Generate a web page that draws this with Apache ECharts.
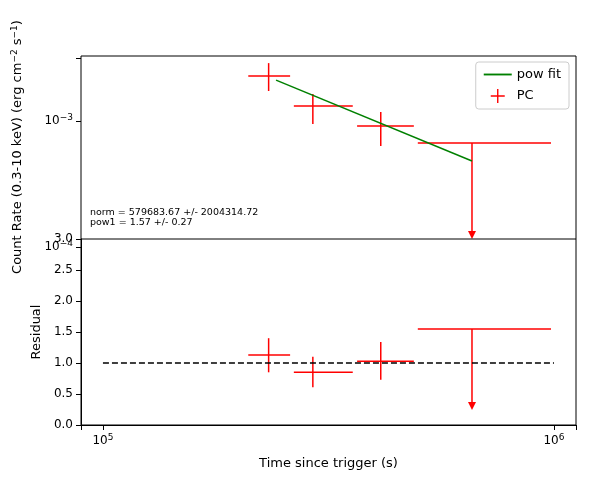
<!DOCTYPE html>
<html><head><meta charset="utf-8">
<script src="https://cdn.jsdelivr.net/npm/echarts@6/dist/echarts.min.js"></script>
<style>body{margin:0}#c{width:589px;height:482px}</style></head>
<body><div id="c"></div>
<script>
// [t, tLo, tHi, rate, rateLo, rateHi, upperLimit]
const pcRate = [
  [2.33e5, 2.10e5, 2.60e5, 2.28e-3, 1.73e-3, 2.88e-3, 0],
  [2.92e5, 2.65e5, 3.58e5, 1.315e-3, 9.47e-4, 1.64e-3, 0],
  [4.13e5, 3.66e5, 4.89e5, 9.13e-4, 6.34e-4, 1.18e-3, 0],
  [6.58e5, 4.99e5, 9.85e5, 6.69e-4, 1.16e-4, 6.69e-4, 1]
];
const residual = [
  [2.33e5, 2.10e5, 2.60e5, 1.13, 0.85, 1.40, 0],
  [2.92e5, 2.65e5, 3.58e5, 0.85, 0.61, 1.10, 0],
  [4.13e5, 3.66e5, 4.89e5, 1.03, 0.73, 1.34, 0],
  [6.58e5, 4.99e5, 9.85e5, 1.55, 0.24, 1.55, 1]
];
const powFit = [[2.42e5, 2.11e-3], [6.58e5, 4.82e-4]];
const unityLine = [[1e5, 1], [1e6, 1]];
const xMin = 8.94e4, xMax = 1.119e6, yMin = 1e-4, yMax = Math.pow(10,-2.5);

function logFmt(v){
  const e = Math.round(Math.log10(v));
  if (Math.abs(v/Math.pow(10,e)-1) > 0.01) return '';
  return '10{s|' + String(e).replace('-','\u2212') + '}';
}
const rich = {s:{fontSize:9, verticalAlign:'top', padding:[0,0,6,0], fontFamily:'DejaVu Sans', color:'#000'}};
function errItem(params, api){
  const x=api.value(0), xl=api.value(1), xh=api.value(2), y=api.value(3), yl=api.value(4), yh=api.value(5), ul=api.value(6);
  const c=api.coord([x,y]), a=api.coord([xl,y]), b=api.coord([xh,y]);
  const lo=api.coord([x,yl]), hi=api.coord([x,yh]);
  const st={stroke:'#ff0000', lineWidth:1.5};
  const ch=[
    {type:'line', shape:{x1:a[0],y1:c[1],x2:b[0],y2:c[1]}, style:st},
    {type:'line', shape:{x1:c[0],y1:hi[1],x2:c[0],y2:ul?lo[1]-4:lo[1]}, style:st}
  ];
  if(ul) ch.push({type:'polygon', shape:{points:[[c[0]-4,lo[1]-8],[c[0]+4,lo[1]-8],[c[0],lo[1]]]}, style:{fill:'#ff0000'}});
  return {type:'group', children:ch};
}
const axLine={lineStyle:{color:'#000'}};
const chart = echarts.init(document.getElementById('c'));
chart.setOption({
  animation:false,
  textStyle:{fontFamily:'DejaVu Sans'},
  grid:[{left:81,top:58,width:495,height:189},{left:81,top:239,width:495,height:186}],
  xAxis:[
    {type:'log', gridIndex:0, min:xMin, max:xMax, axisLabel:{show:false}, axisTick:{show:false}, axisLine:{show:false}, splitLine:{show:false}},
    {type:'log', gridIndex:1, min:xMin, max:xMax, axisLine:axLine, splitLine:{show:false},
     axisLabel:{formatter:logFmt, rich:rich, color:'#000', fontSize:12}, axisTick:{lineStyle:{color:'#000'}},
     name:'Time since trigger (s)', nameLocation:'middle', nameGap:32, nameTextStyle:{fontSize:13, color:'#000'}}
  ],
  yAxis:[
    {type:'log', gridIndex:0, min:yMin, max:yMax, axisLine:{show:false}, splitLine:{show:false},
     axisLabel:{formatter:logFmt, rich:rich, color:'#000', fontSize:12}, axisTick:{lineStyle:{color:'#000'}}},
    {type:'value', gridIndex:1, min:0, max:3, interval:0.5, axisLine:{show:true,...axLine}, splitLine:{show:false},
     axisLabel:{formatter:v=>v.toFixed(1), color:'#000', fontSize:12}, axisTick:{lineStyle:{color:'#000'}},
     name:'Residual', nameLocation:'middle', nameGap:36, nameTextStyle:{fontSize:13,color:'#000'}}
  ],
  legend:{right:20, top:62, orient:'vertical', itemGap:8, borderColor:'#ccc', borderWidth:1, borderRadius:3, padding:[6,8],
    textStyle:{fontSize:13,color:'#000'},
    data:[
      {name:'pow fit', icon:'path://M0,0H30V2H0Z', itemStyle:{color:'green'}},
      {name:'PC', icon:'path://M0,9H20V11H0ZM9,0H11V20H9Z', itemStyle:{color:'#ff0000'}}
    ], itemWidth:28, itemHeight:14},
  series:[
    {name:'pow fit', type:'line', xAxisIndex:0, yAxisIndex:0, data:powFit, symbol:'none', lineStyle:{color:'green',width:1.5}, itemStyle:{color:'green'}},
    {name:'PC', type:'custom', xAxisIndex:0, yAxisIndex:0, data:pcRate, renderItem:errItem, itemStyle:{color:'#ff0000'}},
    {type:'custom', xAxisIndex:1, yAxisIndex:1, data:residual, renderItem:errItem},
    {type:'line', xAxisIndex:1, yAxisIndex:1, data:unityLine, symbol:'none', lineStyle:{color:'#000',type:[6,3],width:1.5}}
  ],
  graphic:[
    {type:'rect', shape:{x:81,y:56,width:495,height:369}, style:{fill:'none',stroke:'#000',lineWidth:1}, silent:true, z:10},
    {type:'line', shape:{x1:81,y1:239,x2:576,y2:239}, style:{stroke:'#000',lineWidth:1}, silent:true, z:10},
    {type:'text', x:90, y:208, style:{text:'norm = 579683.67 +/- 2004314.72\npow1 = 1.57 +/- 0.27', fontSize:9.5, lineHeight:10, fill:'#000', fontFamily:'DejaVu Sans'}},
    {type:'text', x:18, y:147, rotation:Math.PI/2, style:{text:'Count Rate (0.3-10 keV) (erg cm{s|\u22122} s{s|\u22121})', fontSize:13, fill:'#000', align:'center', verticalAlign:'middle', fontFamily:'DejaVu Sans', rich:{s:{fontSize:9,verticalAlign:'top',padding:[0,0,6,0],fontFamily:'DejaVu Sans',fill:'#000'}}}}
  ]
});
</script></body></html>
